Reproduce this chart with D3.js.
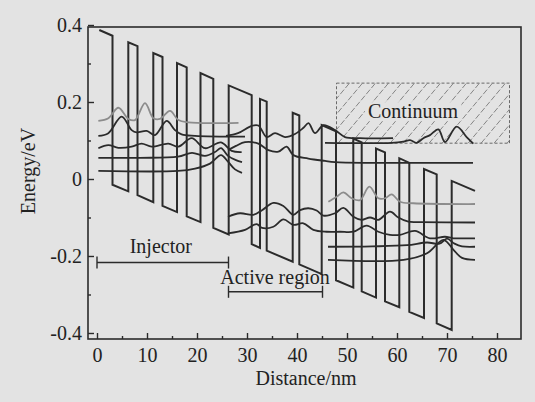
<!DOCTYPE html>
<html>
<head>
<meta charset="utf-8">
<script src="https://cdn.jsdelivr.net/npm/d3@7"></script>
<style>
  html, body { margin: 0; padding: 0; background: #e3e3e3; }
  svg { display: block; }
  text { font-family: "Liberation Serif", "Times New Roman", serif; font-size: 20px; fill: #222; }
</style>
</head>
<body>
<svg id="chart"></svg>
<script>
const W = 535;
const H = 402;

// ── Data ──────────────────────────────────────────────────────────────────────

// conduction band edge: layer boundaries (nm), barrier-top and well-bottom energy (eV)
const EDGE_X      = [0.46, 3.1, 6.26, 8.1, 11.26, 13.1, 16.0, 17.94, 20.7, 23.26, 26.34, 30.94, 32.6, 33.94,
                     39.14, 40.46, 44.94, 47.8, 51.26, 52.94, 55.8, 57.6, 60.46, 62.46, 65.4, 67.94, 70.94, 75.6];
const EDGE_TOP    = [0.387, 0.372, 0.355, 0.345, 0.327, 0.317, 0.301, 0.290, 0.275, 0.260, 0.243, 0.218, 0.208, 0.201,
                     0.172, 0.165, 0.140, 0.124, 0.105, 0.095, 0.079, 0.069, 0.054, 0.042, 0.026, 0.012, -0.005, -0.031];
const EDGE_BOTTOM = [0.000, -0.015, -0.032, -0.042, -0.060, -0.070, -0.086, -0.097, -0.112, -0.127, -0.144, -0.169, -0.179, -0.186,
                     -0.215, -0.222, -0.247, -0.263, -0.282, -0.292, -0.308, -0.318, -0.333, -0.345, -0.361, -0.375, -0.392, -0.418];

// wavefunctions drawn at their energy levels: [distance nm, energy eV]
const WAVE_G1 = [[0.27,0.151],[2.27,0.158],[4.27,0.185],[6.27,0.156],[7.6,0.153],[9.6,0.197],[11.27,0.158],
                 [12.6,0.156],[14.6,0.177],[16.27,0.153],[18.27,0.147],[28.3,0.146]];
const WAVE_B1 = [[0.27,0.112],[2.27,0.119],[4.93,0.162],[6.93,0.127],[7.93,0.121],[9.93,0.125],[11.6,0.114],
                 [13.93,0.151],[15.6,0.127],[16.93,0.116],[19.6,0.112],[29.6,0.110]];
const WAVE_C1 = [[0.27,0.080],[2.27,0.088],[4.27,0.081],[6.93,0.084],[8.93,0.092],[10.93,0.084],[14.27,0.092],
                 [16.27,0.084],[18.93,0.106],[21.6,0.080],[24.8,0.095],[26.93,0.073],[28.93,0.070]];
const WAVE_D1 = [[0.27,0.055],[8.6,0.055],[16.2,0.058],[19,0.068],[21.6,0.060],[23.6,0.070],[24.8,0.080],
                 [26.2,0.060],[27.8,0.049],[29,0.044]];
const WAVE_E1 = [[0.27,0.021],[16.2,0.021],[19.6,0.027],[22.6,0.040],[24.8,0.062],[26.2,0.045],[27.6,0.025],[29,0.016]];

const WAVE_UP  = [[25.8,0.112],[28.2,0.119],[30.94,0.138],[32.27,0.139],[33.93,0.109],[35.6,0.119],[37.6,0.109],
                  [39.6,0.117],[41.3,0.133],[42.3,0.145],[43.6,0.119],[45.3,0.140],[47.6,0.127],[49.6,0.109],
                  [52.6,0.106],[59.2,0.106]];
const WAVE_LOW = [[26.2,0.075],[27.8,0.086],[29.6,0.096],[32.27,0.092],[34.27,0.075],[36.27,0.071],[37.93,0.084],
                  [39.27,0.062],[42.27,0.053],[45.6,0.047],[47.6,0.044],[75.2,0.042]];
const WAVE_CONT = [[45.6,0.094],[58.9,0.094],[61.27,0.097],[62.6,0.101],[63.93,0.094],[65.27,0.106],[66.6,0.114],
                   [68.27,0.129],[69.6,0.096],[71.93,0.136],[73.93,0.109],[75.27,0.092]];

const WAVE_G2 = [[46.27,-0.059],[47.93,-0.046],[49.27,-0.035],[50.93,-0.050],[52.6,-0.055],[54.47,-0.020],
                 [56.27,-0.050],[57.6,-0.050],[58.93,-0.040],[60.6,-0.059],[63.27,-0.063],[75.6,-0.065]];
const WAVE_B2 = [[26.2,-0.098],[28.6,-0.089],[31.27,-0.093],[33,-0.081],[35.27,-0.062],[37.27,-0.070],[39.27,-0.093],
                 [40.6,-0.081],[42.27,-0.076],[43.93,-0.082],[45.27,-0.095],[47.6,-0.089],[49.27,-0.075],[51.27,-0.098],
                 [52.93,-0.106],[54.6,-0.100],[56.27,-0.106],[58.6,-0.085],[60.27,-0.100],[62.27,-0.111],[64.6,-0.112],
                 [75.6,-0.113]];
const WAVE_C2 = [[26.2,-0.141],[29.6,-0.132],[31.93,-0.117],[33,-0.127],[35.27,-0.124],[37.27,-0.105],[39.27,-0.119],
                 [41.27,-0.115],[43.27,-0.132],[45.93,-0.137],[48.6,-0.137],[51.27,-0.137],[53.93,-0.121],[56.27,-0.137],
                 [58.6,-0.145],[60.6,-0.145],[63.6,-0.135],[66.6,-0.154],[69.6,-0.150],[71.27,-0.154],[75.6,-0.154]];
const WAVE_D2 = [[46.2,-0.176],[55,-0.175],[62,-0.172],[66,-0.165],[68.5,-0.168],[70,-0.155],[71.5,-0.168],
                 [73,-0.175],[75.6,-0.176]];
const WAVE_E2 = [[46.2,-0.210],[61.3,-0.210],[66,-0.193],[69.3,-0.158],[71.3,-0.184],[73,-0.205],[75.6,-0.210]];

const CONT_X = [47.9, 82.5];
const CONT_E = [0.093, 0.249];

const INJ_X = [0, 26.3];
const INJ_E = -0.217;
const ACT_X = [26.3, 45.1];
const ACT_E = -0.293;

const X_TICKS = [0, 10, 20, 30, 40, 50, 60, 70, 80];
const X_MINOR = [5, 15, 25, 35, 45, 55, 65, 75];
const Y_TICKS = [-0.4, -0.2, 0, 0.2, 0.4];
const Y_MINOR = [-0.3, -0.1, 0.1, 0.3];

// ── Scales ────────────────────────────────────────────────────────────────────

const x = d3.scaleLinear().domain([-1.8, 84.8]).range([88, 521]);
const y = d3.scaleLinear().domain([-0.4156, 0.3948]).range([339, 27]);

const svg = d3.select('#chart').attr('width', W).attr('height', H);
const INK = '#2b2b2b';

// ── Continuum box ─────────────────────────────────────────────────────────────

const bx0 = x(CONT_X[0]), bx1 = x(CONT_X[1]);
const by0 = y(CONT_E[1]), by1 = y(CONT_E[0]);

svg.append('clipPath').attr('id', 'cbox')
  .append('rect').attr('x', bx0).attr('y', by0).attr('width', bx1 - bx0).attr('height', by1 - by0);

const slant = (by1 - by0) / Math.tan(50 * Math.PI / 180);
svg.append('g').attr('clip-path', 'url(#cbox)')
  .selectAll('line')
  .data(d3.range(bx0 - slant, bx1 + 2, 13))
  .join('line')
  .attr('x1', d => d).attr('y1', by1)
  .attr('x2', d => d + slant).attr('y2', by0)
  .attr('stroke', '#7a7a7a').attr('stroke-width', 0.9).attr('stroke-dasharray', '6,2');

svg.append('rect')
  .attr('x', bx0).attr('y', by0).attr('width', bx1 - bx0).attr('height', by1 - by0)
  .attr('fill', 'none').attr('stroke', '#6a6a6a').attr('stroke-width', 1).attr('stroke-dasharray', '3,2');

const contLabel = svg.append('text')
  .attr('x', x(63.2)).attr('y', y(0.158))
  .attr('text-anchor', 'middle')
  .text('Continuum');
const bb = contLabel.node().getBBox();
svg.insert('rect', 'text')
  .attr('x', bb.x - 3).attr('y', bb.y + 2).attr('width', bb.width + 6).attr('height', bb.height - 3)
  .attr('fill', '#e3e3e3');

// ── Band edge ─────────────────────────────────────────────────────────────────

const bandPts = [[EDGE_X[0], EDGE_TOP[0]]];
for (let i = 1; i < EDGE_X.length; i++) {
  const barrier = (i - 1) % 2 === 0;
  if (barrier) {
    bandPts.push([EDGE_X[i], EDGE_TOP[i]]);
    if (i < EDGE_X.length - 1) bandPts.push([EDGE_X[i], EDGE_BOTTOM[i]]);
  } else {
    bandPts.push([EDGE_X[i], EDGE_BOTTOM[i]]);
    bandPts.push([EDGE_X[i], EDGE_TOP[i]]);
  }
}

const straight = d3.line().x(d => x(d[0])).y(d => y(d[1]));
svg.append('path')
  .attr('d', straight(bandPts))
  .attr('fill', 'none').attr('stroke', INK).attr('stroke-width', 2)
  .attr('stroke-linejoin', 'miter');

// ── Wavefunctions ─────────────────────────────────────────────────────────────

const smooth = d3.line().x(d => x(d[0])).y(d => y(d[1])).curve(d3.curveCatmullRom.alpha(0.5));

const waves = [
  { pts: WAVE_G1, color: '#8c8c8c' },
  { pts: WAVE_G2, color: '#8c8c8c' },
  { pts: WAVE_B1, color: INK }, { pts: WAVE_C1, color: INK },
  { pts: WAVE_D1, color: INK }, { pts: WAVE_E1, color: INK },
  { pts: WAVE_UP, color: INK }, { pts: WAVE_LOW, color: INK },
  { pts: WAVE_CONT, color: INK },
  { pts: WAVE_B2, color: INK }, { pts: WAVE_C2, color: INK },
  { pts: WAVE_D2, color: INK }, { pts: WAVE_E2, color: INK },
];

svg.append('g').selectAll('path')
  .data(waves)
  .join('path')
  .attr('d', d => smooth(d.pts))
  .attr('fill', 'none')
  .attr('stroke', d => d.color)
  .attr('stroke-width', 1.8);

// ── Region brackets ───────────────────────────────────────────────────────────

function bracket(xs, e) {
  const g = svg.append('g').attr('stroke', INK).attr('stroke-width', 1.4);
  g.append('line').attr('x1', x(xs[0])).attr('x2', x(xs[1])).attr('y1', y(e)).attr('y2', y(e));
  xs.forEach(v => g.append('line')
    .attr('x1', x(v)).attr('x2', x(v)).attr('y1', y(e) - 6).attr('y2', y(e) + 6));
}
bracket(INJ_X, INJ_E);
bracket(ACT_X, ACT_E);

svg.append('text').attr('x', x(12.76)).attr('y', y(-0.193)).attr('text-anchor', 'middle').text('Injector');
svg.append('text').attr('x', x(35.6)).attr('y', y(-0.273)).attr('text-anchor', 'middle').text('Active region');

// ── Axes ──────────────────────────────────────────────────────────────────────

function styleAxis(g) {
  g.select('.domain').remove();
  g.attr('color', INK);
  g.selectAll('line').attr('stroke-width', 1.4);
}

svg.append('g').attr('transform', 'translate(0,339)')
  .call(d3.axisBottom(x).tickValues(X_TICKS).tickSize(-6).tickPadding(9).tickFormat(d3.format('d')))
  .call(styleAxis);
svg.append('g').attr('transform', 'translate(0,339)')
  .call(d3.axisBottom(x).tickValues(X_MINOR).tickSize(-3).tickFormat(''))
  .call(styleAxis);

svg.append('g').attr('transform', 'translate(88,0)')
  .call(d3.axisLeft(y).tickValues(Y_TICKS).tickSize(-6).tickPadding(6)
    .tickFormat(d => d === 0 ? '0' : d.toFixed(1)))
  .call(styleAxis);
svg.append('g').attr('transform', 'translate(88,0)')
  .call(d3.axisLeft(y).tickValues(Y_MINOR).tickSize(-3).tickFormat(''))
  .call(styleAxis);

svg.append('rect')
  .attr('x', 88).attr('y', 27).attr('width', 521 - 88).attr('height', 339 - 27)
  .attr('fill', 'none').attr('stroke', INK).attr('stroke-width', 1.6);

svg.append('text')
  .attr('x', 306).attr('y', 385).attr('text-anchor', 'middle')
  .text('Distance/nm');

svg.append('text')
  .attr('transform', 'translate(35,171) rotate(-90)')
  .attr('text-anchor', 'middle')
  .text('Energy/eV');
</script>
</body>
</html>
